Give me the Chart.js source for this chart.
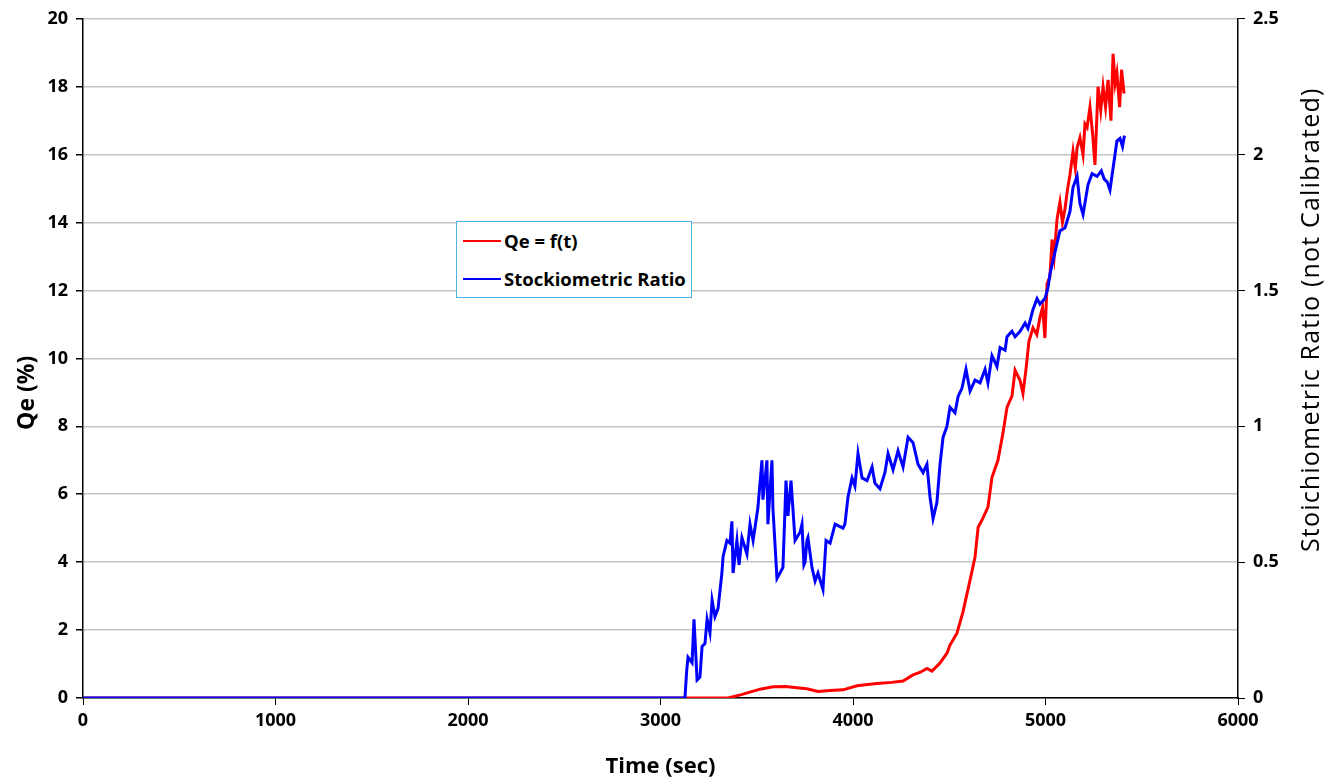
<!DOCTYPE html>
<html>
<head>
<meta charset="utf-8">
<script src="https://cdn.jsdelivr.net/npm/chart.js@4.4.1/dist/chart.umd.min.js"></script>
<style>
  body { margin: 0; background: #fff; }
  #wrap { position: relative; width: 1341px; height: 780px; }
  #legend {
    position: absolute; left: 456px; top: 221px; width: 234px; height: 75px;
    border: 1px solid #4ab4e6; background: #fff;
    font: bold 18.5px "Open Sans", sans-serif; color: #000;
  }
  .item { position: absolute; left: 6px; display: flex; align-items: center; line-height: 20px; }
  .item span { display: inline-block; width: 38px; height: 2px; margin-right: 3px; }
</style>
</head>
<body>
<div id="wrap">
  <canvas id="qeChart" width="1341" height="780"></canvas>
  <div id="legend">
    <div class="item" style="top:9px"><span style="background:#ff0000"></span>Qe = f(t)</div>
    <div class="item" style="top:47px"><span style="background:#0000ff"></span>Stockiometric Ratio</div>
  </div>
</div>
<script>
const ctx = document.getElementById("qeChart");

// Qe (%) vs time, left axis
const qeTime = [0, 3351, 3420, 3517, 3585, 3650, 3709, 3760, 3818, 3880, 3948, 4021, 4075, 4125, 4200,
  4260, 4312, 4350, 4384, 4410, 4452, 4488, 4504, 4540, 4571, 4608, 4634, 4650, 4670, 4701, 4722,
  4753, 4779, 4800, 4826, 4842, 4868, 4883, 4899, 4914, 4935, 4955, 4971, 4985, 4997, 5008, 5023,
  5034, 5045, 5060, 5075, 5088, 5101, 5115, 5127, 5143, 5155, 5164, 5179, 5195, 5205, 5216, 5231,
  5245, 5257, 5273, 5287, 5299, 5312, 5325, 5340, 5351, 5362, 5371, 5385, 5395, 5408];
const qeValues = [0, 0, 0.10, 0.26, 0.33, 0.34, 0.30, 0.27, 0.19, 0.22, 0.24, 0.36, 0.40, 0.43, 0.46,
  0.50, 0.68, 0.76, 0.87, 0.79, 1.03, 1.32, 1.56, 1.91, 2.53, 3.47, 4.15, 5.03, 5.24, 5.62, 6.5,
  7.0, 7.8, 8.56, 8.9, 9.65, 9.35, 8.97, 9.7, 10.5, 10.9, 10.7, 11.2, 11.5, 10.6, 12.2, 12.4,
  13.5, 13.0, 14.1, 14.6, 14.0, 14.4, 15.0, 15.4, 16.1, 15.6, 16.2, 16.5, 16.0, 16.9, 16.8, 17.4,
  16.6, 15.7, 18.0, 17.3, 18.0, 17.4, 18.2, 17.0, 18.97, 18.1, 18.4, 17.4, 18.5, 17.8];

// stoichiometric ratio vs time, right axis
const ratioTime = [0, 3127, 3136, 3143, 3164, 3174, 3190, 3205, 3216, 3231, 3242, 3257, 3268, 3283,
  3299, 3319, 3325, 3345, 3361, 3371, 3377, 3397, 3408, 3423, 3449, 3465, 3481, 3506, 3527, 3532,
  3553, 3558, 3579, 3584, 3605, 3636, 3652, 3662, 3678, 3699, 3725, 3735, 3745, 3751, 3761, 3766,
  3787, 3803, 3818, 3844, 3860, 3881, 3907, 3948, 3958, 3974, 3995, 4010, 4026, 4047, 4073, 4099,
  4114, 4140, 4166, 4182, 4208, 4234, 4260, 4286, 4312, 4338, 4364, 4384, 4400, 4416, 4436, 4452,
  4468, 4488, 4504, 4530, 4546, 4566, 4587, 4608, 4634, 4660, 4686, 4701, 4722, 4748, 4764, 4790,
  4800, 4826, 4842, 4868, 4894, 4909, 4935, 4956, 4971, 4997, 5013, 5023, 5049, 5075, 5101, 5127,
  5143, 5164, 5179, 5195, 5221, 5242, 5268, 5290, 5305, 5320, 5335, 5351, 5371, 5387, 5400, 5410];
const ratioValues = [0, 0, 0.10, 0.15, 0.13, 0.29, 0.066, 0.077, 0.19, 0.20, 0.29, 0.24, 0.36, 0.30,
  0.33, 0.46, 0.52, 0.58, 0.57, 0.65, 0.46, 0.58, 0.49, 0.59, 0.53, 0.64, 0.58, 0.70, 0.875, 0.73,
  0.875, 0.64, 0.875, 0.70, 0.44, 0.48, 0.80, 0.67, 0.80, 0.58, 0.61, 0.64, 0.49, 0.50, 0.58, 0.59,
  0.48, 0.43, 0.46, 0.40, 0.58, 0.57, 0.64, 0.625, 0.64, 0.74, 0.81, 0.78, 0.90, 0.81, 0.80, 0.85,
  0.79, 0.77, 0.83, 0.90, 0.84, 0.91, 0.85, 0.96, 0.94, 0.86, 0.83, 0.86, 0.74, 0.66, 0.72, 0.86,
  0.96, 1.0, 1.07, 1.05, 1.11, 1.14, 1.21, 1.13, 1.17, 1.16, 1.21, 1.16, 1.26, 1.22, 1.29, 1.28,
  1.33, 1.35, 1.33, 1.35, 1.38, 1.36, 1.43, 1.47, 1.45, 1.47, 1.51, 1.56, 1.64, 1.72, 1.73, 1.79,
  1.88, 1.92, 1.82, 1.78, 1.89, 1.93, 1.92, 1.94, 1.91, 1.90, 1.87, 1.95, 2.05, 2.06, 2.03, 2.07];

const xTicks = [0, 1000, 2000, 3000, 4000, 5000, 6000];

const tickFont = { family: "'Open Sans', sans-serif", size: 18, weight: "bold" };
const plain = v => String(v); // no thousands separators, no trailing .0

// rotated axis titles (right one reads bottom-to-top like the original)
const sideTitles = {
  id: "sideTitles",
  afterDraw(chart) {
    const c = chart.ctx;
    const a = chart.chartArea;
    c.save();
    c.fillStyle = "#000";
    c.textAlign = "center";
    c.textBaseline = "middle";
    c.font = "bold 23px 'Open Sans', sans-serif";
    c.translate(a.left - 56, a.top + 374);
    c.rotate(-Math.PI / 2);
    c.fillText("Qe (%)", 0, 0);
    c.restore();

    c.save();
    c.fillStyle = "#000";
    c.textAlign = "center";
    c.textBaseline = "middle";
    c.font = "25px 'Open Sans', sans-serif";
    c.letterSpacing = "1.2px";
    c.translate(a.right + 74, a.top + 301);
    c.rotate(-Math.PI / 2);
    c.fillText("Stoichiometric Ratio (not Calibrated)", 0, 0);
    c.restore();
  }
};

new Chart(ctx, {
  type: "line",
  data: {
    datasets: [
      {
        label: "Qe = f(t)",
        data: qeTime.map((t, i) => ({ x: t, y: qeValues[i] })),
        borderColor: "#ff0000",
        borderWidth: 3,
        pointRadius: 0,
        tension: 0,
        yAxisID: "y",
        order: 1,
      },
      {
        label: "Stockiometric Ratio",
        data: ratioTime.map((t, i) => ({ x: t, y: ratioValues[i] })),
        borderColor: "#0000ff",
        borderWidth: 3,
        pointRadius: 0,
        tension: 0,
        yAxisID: "y1",
        order: 0,
      },
    ],
  },
  options: {
    responsive: false,
    animation: false,
    layout: { padding: { top: 18, left: 0, right: 0, bottom: 0 } },
    plugins: { legend: { display: false }, tooltip: { enabled: false } },
    scales: {
      x: {
        type: "linear",
        min: 0,
        max: 6000,
        afterBuildTicks: s => { s.ticks = xTicks.map(v => ({ value: v })); },
        afterFit: s => { s.height = 82; },
        grid: { drawOnChartArea: false, tickColor: "#000", tickLength: 7 },
        border: { color: "#000", width: 1.5 },
        ticks: { color: "#000", font: tickFont, padding: 5, maxRotation: 0, callback: plain },
        title: {
          display: true,
          text: "Time (sec)",
          color: "#000",
          font: { family: "'Open Sans', sans-serif", size: 22, weight: "bold" },
          padding: { top: 4, bottom: 0 },
        },
      },
      y: {
        position: "left",
        min: 0,
        max: 20,
        afterFit: s => { s.width = 83; },
        grid: { color: "#c4c4c4", lineWidth: 1.5, tickColor: "#000", tickLength: 7 },
        border: { color: "#000", width: 1.5 },
        ticks: { stepSize: 2, color: "#000", font: tickFont, padding: 8, callback: plain },
      },
      y1: {
        position: "right",
        min: 0,
        max: 2.5,
        afterFit: s => { s.width = 103; },
        grid: { drawOnChartArea: false, tickColor: "#000", tickLength: 7 },
        border: { color: "#000", width: 1.5 },
        ticks: { stepSize: 0.5, color: "#000", font: tickFont, padding: 8, callback: plain },
      },
    },
  },
  plugins: [sideTitles],
});
</script>
</body>
</html>
